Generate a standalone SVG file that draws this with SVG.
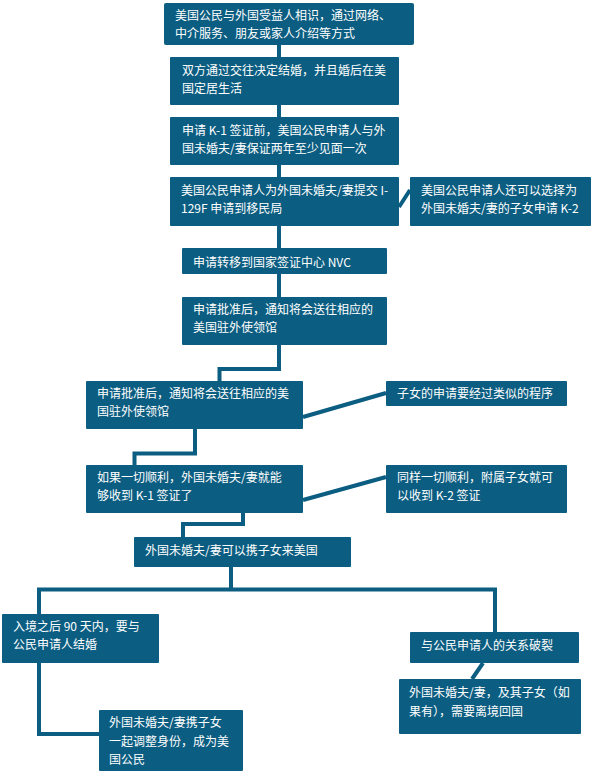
<svg xmlns="http://www.w3.org/2000/svg" width="594" height="774" viewBox="0 0 594 774">
<style>
.b{fill:#0b5d81;}
.t{fill:#ffffff;font-family:"Noto Sans CJK SC","Noto Sans",sans-serif;font-size:12px;}
.c{fill:none;stroke:#0b5d81;stroke-width:4;stroke-linejoin:miter;stroke-linecap:butt;}
</style>
<rect width="594" height="774" fill="#ffffff"/>
<g id="connectors">
<path class="c" d="M279 45V57M279 105V117M279 165V177M279 226V248M279 274V297"/>
<path class="c" d="M279 345V369H219.5V381"/>
<path class="c" d="M399 207L410 190"/>
<path class="c" d="M303 417L386 393"/>
<path class="c" d="M195 429V453.5H134.5V465"/>
<path class="c" d="M303 500L386 477"/>
<path class="c" d="M243 513V524H183V537"/>
<path class="c" d="M231 567V589.5M39 589.5H495M39 587.5V614M495 587.5V632"/>
<path class="c" d="M39 663V734H99"/>
<path class="c" d="M483 663L472 679"/>
</g>
<g id="n1"><rect class="b" x="164" y="3" width="250" height="42" rx="2"/>
<text class="t" x="175" y="20">美国公民与外国受益人相识，通过网络、</text>
<text class="t" x="175" y="38">中介服务、朋友或家人介绍等方式</text></g>
<g id="n2"><rect class="b" x="170" y="57" width="229" height="48" rx="1"/>
<text class="t" x="182" y="75">双方通过交往决定结婚，并且婚后在美</text>
<text class="t" x="182" y="93">国定居生活</text></g>
<g id="n3"><rect class="b" x="170" y="117" width="229" height="48" rx="1"/>
<text class="t" x="182" y="135">申请 K-1 签证前，美国公民申请人与外</text>
<text class="t" x="182" y="153">国未婚夫/妻保证两年至少见面一次</text></g>
<g id="n4"><rect class="b" x="170" y="177" width="229" height="49" rx="1"/>
<text class="t" x="181" y="195">美国公民申请人为外国未婚夫/妻提交 I-</text>
<text class="t" x="181" y="213">129F 申请到移民局</text></g>
<g id="n4s"><rect class="b" x="410" y="177" width="181" height="49" rx="1"/>
<text class="t" x="421" y="195">美国公民申请人还可以选择为</text>
<text class="t" x="421" y="213">外国未婚夫/妻的子女申请 K-2</text></g>
<g id="n5"><rect class="b" x="182" y="248" width="205" height="26" rx="1"/>
<text class="t" x="193" y="267">申请转移到国家签证中心 NVC</text></g>
<g id="n6"><rect class="b" x="182" y="297" width="205" height="48" rx="1"/>
<text class="t" x="193" y="314">申请批准后，通知将会送往相应的</text>
<text class="t" x="193" y="332">美国驻外使领馆</text></g>
<g id="n7"><rect class="b" x="86" y="381" width="217" height="48" rx="1"/>
<text class="t" x="97" y="398">申请批准后，通知将会送往相应的美</text>
<text class="t" x="97" y="416">国驻外使领馆</text></g>
<g id="n7s"><rect class="b" x="386" y="381" width="181" height="25" rx="1"/>
<text class="t" x="397" y="398">子女的申请要经过类似的程序</text></g>
<g id="n8"><rect class="b" x="86" y="465" width="217" height="48" rx="1"/>
<text class="t" x="97" y="482">如果一切顺利，外国未婚夫/妻就能</text>
<text class="t" x="97" y="500">够收到 K-1 签证了</text></g>
<g id="n8s"><rect class="b" x="386" y="465" width="181" height="48" rx="1"/>
<text class="t" x="397" y="482">同样一切顺利，附属子女就可</text>
<text class="t" x="397" y="500">以收到 K-2 签证</text></g>
<g id="n9"><rect class="b" x="134" y="537" width="217" height="30" rx="1"/>
<text class="t" x="145" y="555">外国未婚夫/妻可以携子女来美国</text></g>
<g id="n10"><rect class="b" x="2" y="614" width="157" height="49" rx="1"/>
<text class="t" x="13" y="631">入境之后 90 天内，要与</text>
<text class="t" x="13" y="649">公民申请人结婚</text></g>
<g id="n11"><rect class="b" x="410" y="632" width="169" height="31" rx="1"/>
<text class="t" x="421" y="650">与公民申请人的关系破裂</text></g>
<g id="n12"><rect class="b" x="399" y="679" width="182" height="55" rx="1"/>
<text class="t" x="409" y="697">外国未婚夫/妻，及其子女（如</text>
<text class="t" x="409" y="716">果有），需要离境回国</text></g>
<g id="n13"><rect class="b" x="99" y="710" width="144" height="61" rx="1"/>
<text class="t" x="109" y="727">外国未婚夫/妻携子女</text>
<text class="t" x="109" y="746">一起调整身份，成为美</text>
<text class="t" x="109" y="764">国公民</text></g>
</svg>
